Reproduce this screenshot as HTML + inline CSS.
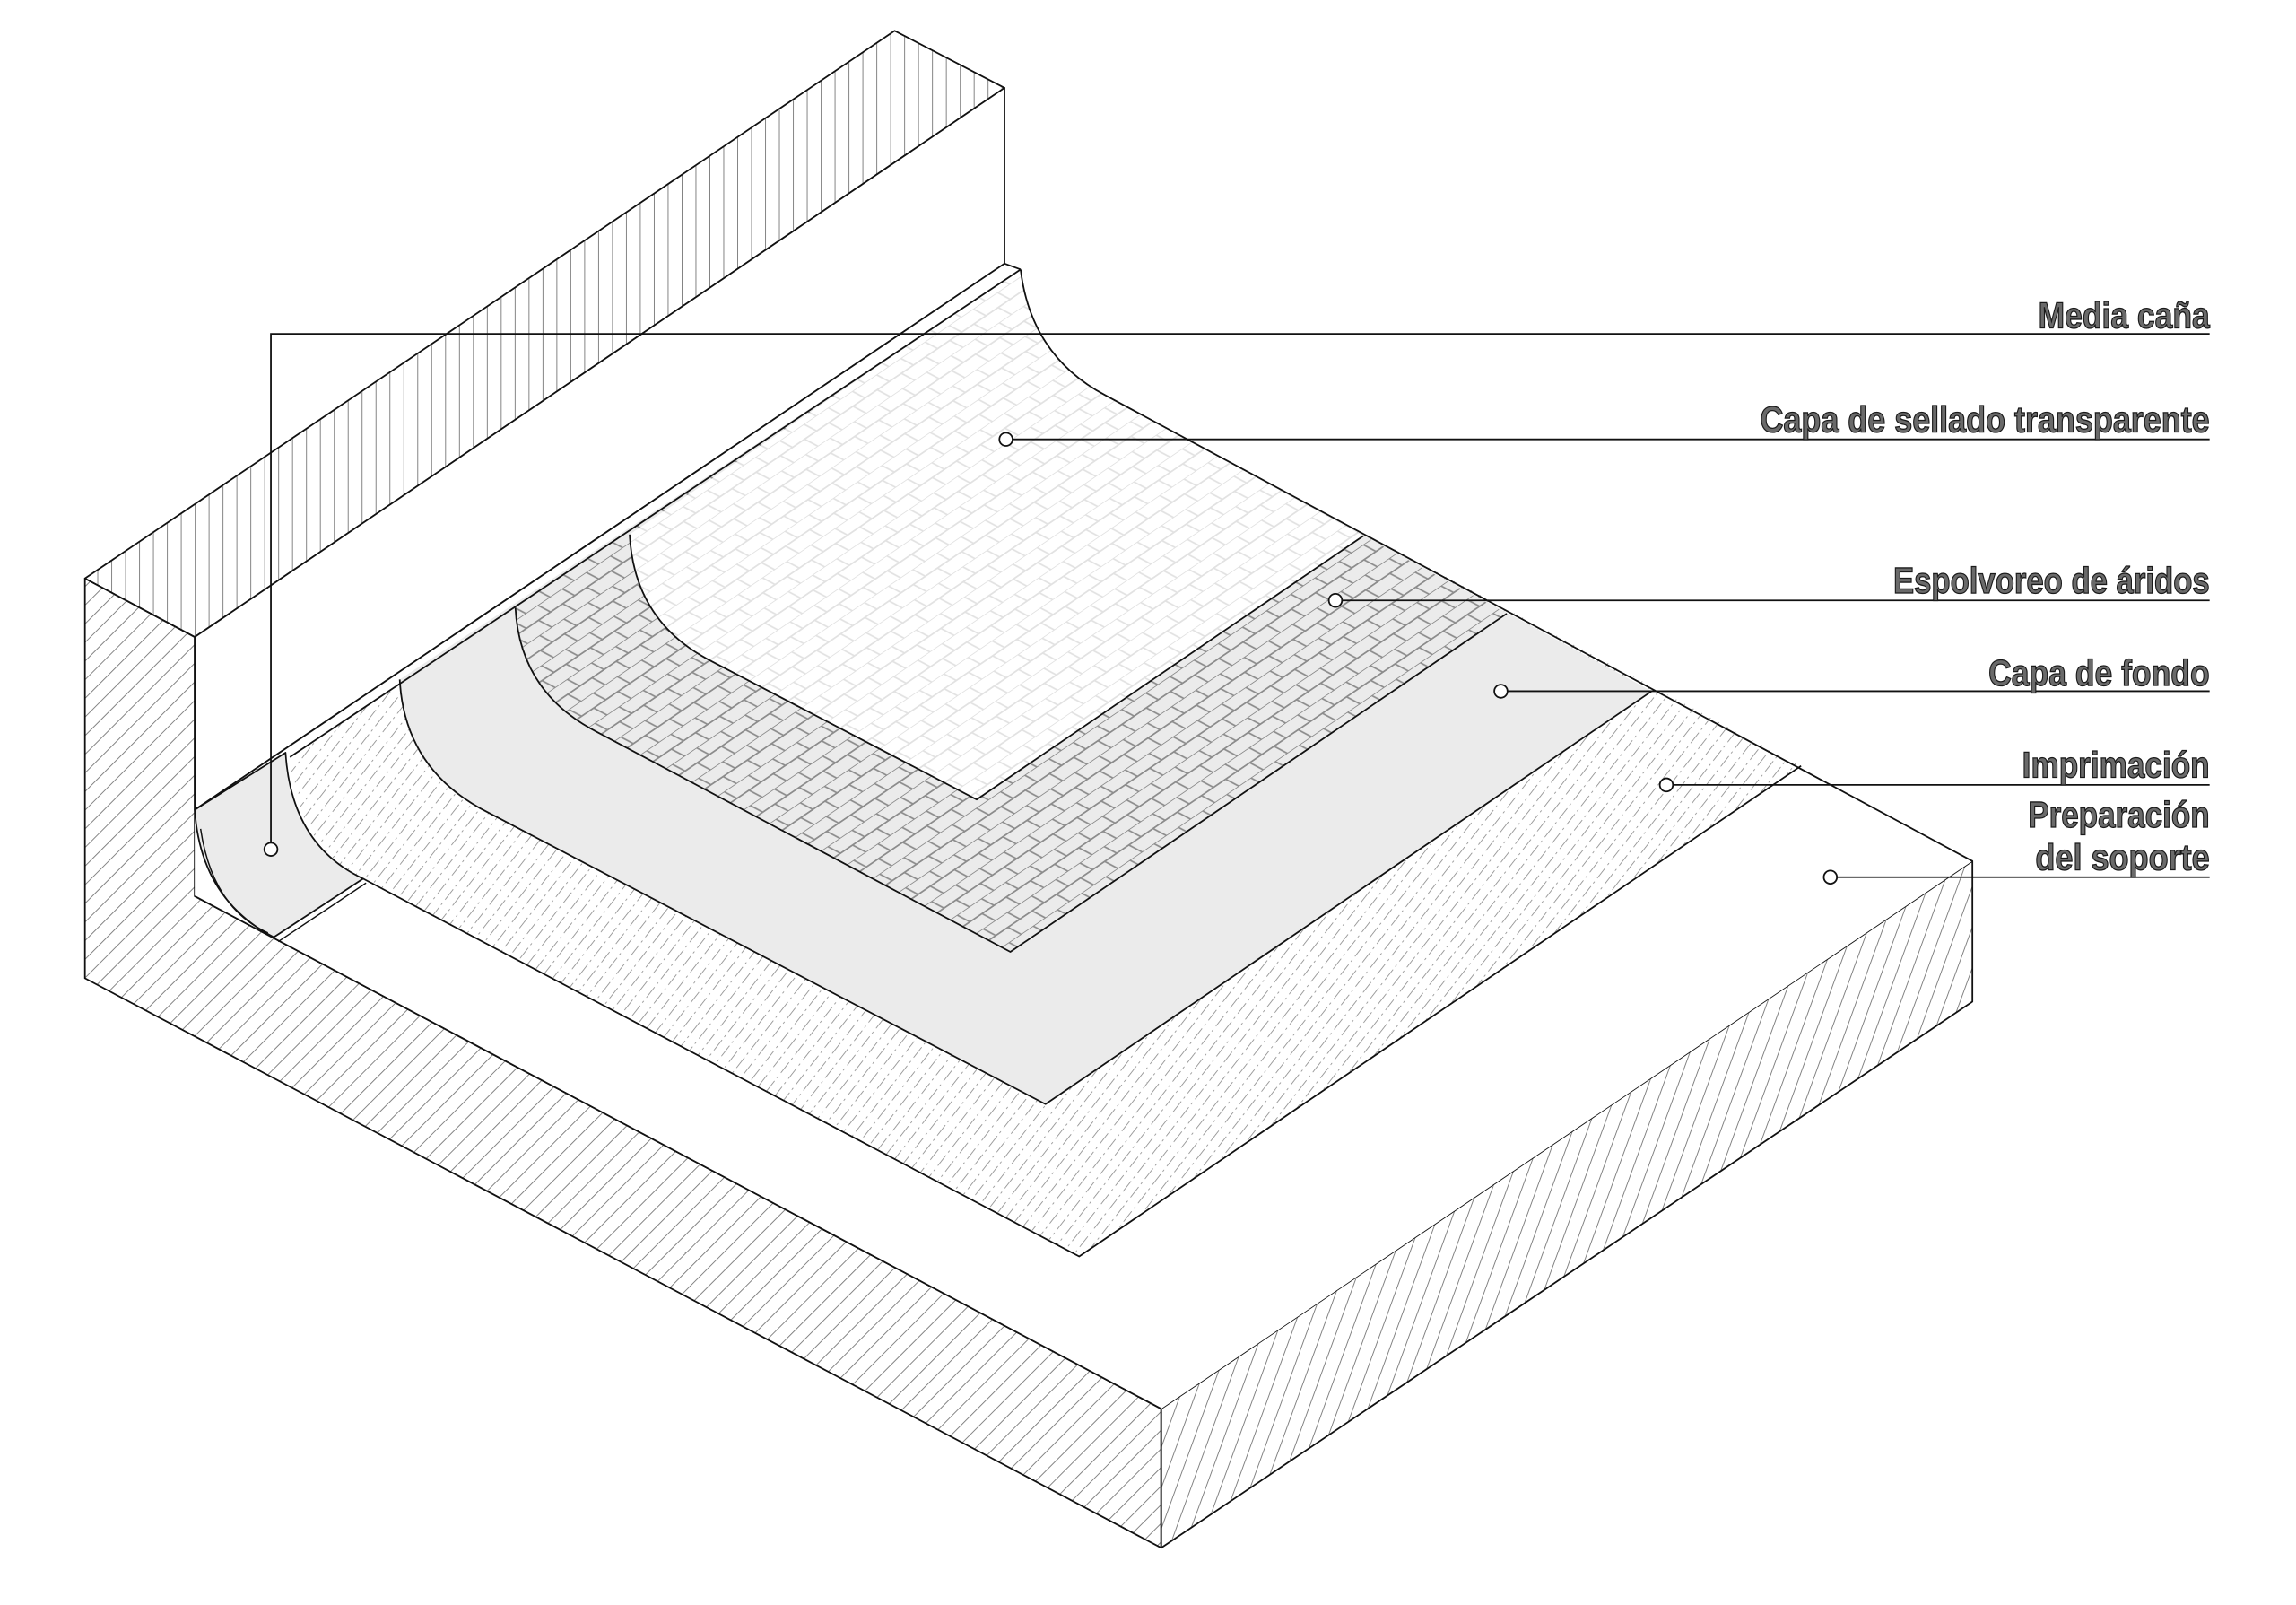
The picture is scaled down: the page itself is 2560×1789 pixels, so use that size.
<!DOCTYPE html>
<html><head><meta charset="utf-8"><style>
html,body{margin:0;padding:0;background:#fff;}
svg{display:block;}
text{font-family:"Liberation Sans","DejaVu Sans",sans-serif;font-weight:bold;font-size:25px;fill:#6a6a6a;stroke:#1a1a1a;stroke-width:0.8px;}
</style></head><body>
<svg width="2560" height="1789" viewBox="0 0 1568 1096" preserveAspectRatio="none" xmlns="http://www.w3.org/2000/svg">
<defs>
<pattern id="hL" patternUnits="userSpaceOnUse" width="9" height="9" patternTransform="rotate(45)">
<line x1="0" y1="0" x2="0" y2="9" stroke="#777" stroke-width="1.1"/></pattern>
<pattern id="hR" patternUnits="userSpaceOnUse" width="9.5" height="9.5" patternTransform="rotate(20)">
<line x1="0" y1="0" x2="0" y2="9.5" stroke="#777" stroke-width="1.1"/></pattern>
<pattern id="hV" patternUnits="userSpaceOnUse" width="9.5" height="9.5">
<line x1="0" y1="0" x2="0" y2="9.5" stroke="#777" stroke-width="1.1"/></pattern>
<pattern id="brick" patternUnits="userSpaceOnUse" width="20" height="20" patternTransform="matrix(0.826 -0.562 0.884 0.468 0 0)">
<line x1="0" y1="0" x2="20" y2="0" stroke="#8c8c8c" stroke-width="1.2"/>
<line x1="0" y1="10" x2="20" y2="10" stroke="#8c8c8c" stroke-width="1.2"/>
<line x1="1" y1="0" x2="1" y2="10" stroke="#8c8c8c" stroke-width="1.2"/>
<line x1="11" y1="10" x2="11" y2="20" stroke="#8c8c8c" stroke-width="1.2"/>
</pattern>
<pattern id="brickL" patternUnits="userSpaceOnUse" width="20" height="20" patternTransform="matrix(0.826 -0.562 0.884 0.468 0 0)">
<line x1="0" y1="0" x2="20" y2="0" stroke="#e2e2e2" stroke-width="1.2"/>
<line x1="0" y1="10" x2="20" y2="10" stroke="#e2e2e2" stroke-width="1.2"/>
<line x1="1" y1="0" x2="1" y2="10" stroke="#e2e2e2" stroke-width="1.2"/>
<line x1="11" y1="10" x2="11" y2="20" stroke="#e2e2e2" stroke-width="1.2"/>
</pattern>
<pattern id="dash" patternUnits="userSpaceOnUse" width="6.5" height="16" patternTransform="rotate(38)">
<line x1="0" y1="0" x2="0" y2="16" stroke="#8a8a8a" stroke-width="1" stroke-dasharray="9 3 1.5 2.5"/></pattern>
</defs>

<g stroke="#111" stroke-width="1.1" stroke-linejoin="round">
<polygon points="58,395 611,21 686,60 133,435" fill="url(#hV)"/>
<polygon points="58,395 133,435 133,612 793,962 793,1057 58,668" fill="url(#hL)"/>
<polygon points="793,962 1347,588 1347,684 793,1057" fill="url(#hR)"/>
<polygon points="133,435 686,60 686,180 133,553" fill="#fff"/>
<path d="M133,553 L686,180 L697,184 Q704,243 755,270 L1347,588 L793,962 L133,612 Z" fill="#fff" stroke="none"/>

<path d="M198,517 L697,184 Q704,243 755,270 L1230,523 L737,858 L248,600 Q202,577 198,517 Z" fill="url(#dash)" stroke="none"/>
<path d="M273,464 L697,184 Q704,243 755,270 L1128,472 L714,754 L328,552 Q276,523 273,464 Z" fill="#ebebeb" stroke="none"/>
<path d="M352,415 L697,184 Q704,243 755,270 L1029,419 L690,650 L408,500 Q355,473 352,415 Z" fill="url(#brick)" stroke="none"/>
<path d="M430,365 L697,184 Q704,243 755,270 L931,366 L667,546 L483,450 Q433,423 430,365 Z" fill="#fff" stroke="none"/>
<path d="M430,365 L697,184 Q704,243 755,270 L931,366 L667,546 L483,450 Q433,423 430,365 Z" fill="url(#brickL)" stroke="none"/>
<path d="M133,553 L195,514 Q199,577 248,600 L187,640 Q137,614 133,553 Z" fill="#ebebeb"/>
<path d="M137,566 Q145,620 183,637" fill="none" stroke-width="0.9"/>
<line x1="190" y1="643" x2="250" y2="603" stroke-width="0.9"/>

<line x1="133" y1="553" x2="686" y2="180"/>
<line x1="198" y1="517" x2="697" y2="184"/>
<line x1="686" y1="180" x2="697" y2="184"/>
<path d="M697,184 Q704,243 755,270 L1347,588" fill="none"/>
<path d="M273,464 Q276,523 328,552 L714,754 L1128,472" fill="none"/>
<path d="M352,415 Q355,473 408,500 L690,650 L1029,419" fill="none"/>
<path d="M430,365 Q433,423 483,450 L667,546 L931,366" fill="none"/>
<path d="M248,600 L737,858 L1230,523" fill="none"/>
<line x1="133" y1="612" x2="793" y2="962"/>
</g>

<g stroke="#111" stroke-width="1.1" fill="#fff">
<polyline points="185,575.5 185,228 1509,228" fill="none"/>
<circle cx="185" cy="580" r="4.5"/>
<line x1="691.5" y1="300" x2="1509" y2="300"/>
<circle cx="687" cy="300" r="4.5"/>
<line x1="916.5" y1="410" x2="1509" y2="410"/>
<circle cx="912" cy="410" r="4.5"/>
<line x1="1029.5" y1="472" x2="1509" y2="472"/>
<circle cx="1025" cy="472" r="4.5"/>
<line x1="1142.5" y1="536" x2="1509" y2="536"/>
<circle cx="1138" cy="536" r="4.5"/>
<line x1="1254.5" y1="599" x2="1509" y2="599"/>
<circle cx="1250" cy="599" r="4.5"/>
</g>

<text x="1392" y="224" textLength="117" lengthAdjust="spacingAndGlyphs">Media caña</text>
<text x="1202" y="295" textLength="307" lengthAdjust="spacingAndGlyphs">Capa de sellado transparente</text>
<text x="1293" y="405" textLength="216" lengthAdjust="spacingAndGlyphs">Espolvoreo de áridos</text>
<text x="1358" y="468" textLength="151" lengthAdjust="spacingAndGlyphs">Capa de fondo</text>
<text x="1381" y="531" textLength="128" lengthAdjust="spacingAndGlyphs">Imprimación</text>
<text x="1385" y="565" textLength="124" lengthAdjust="spacingAndGlyphs">Preparación</text>
<text x="1390" y="594" textLength="119" lengthAdjust="spacingAndGlyphs">del soporte</text>
</svg>
</body></html>
